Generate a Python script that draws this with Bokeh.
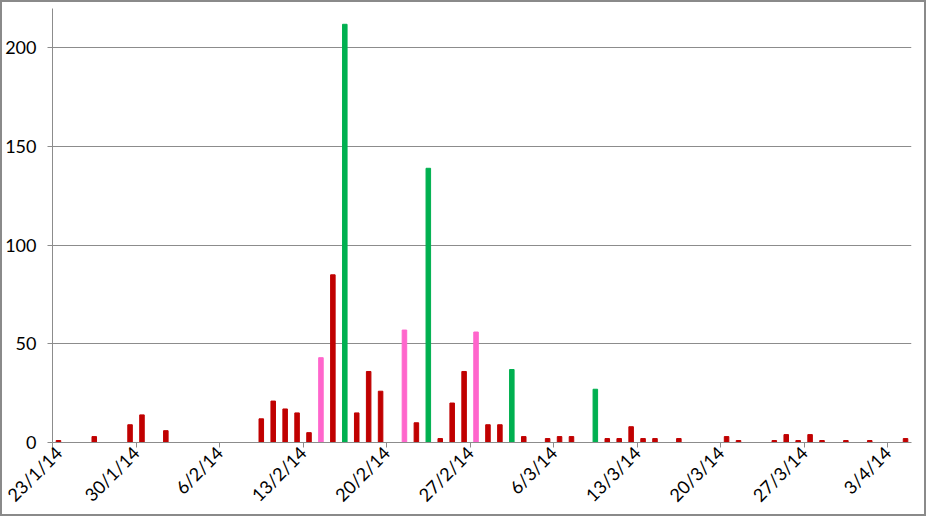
import pandas as pd
from bokeh.plotting import figure
from bokeh.models import ColumnDataSource, Range1d, FixedTicker
from bokeh.embed import file_html
from bokeh.resources import INLINE
from math import pi

# ---- data ----
dates = ["2014-01-23", "2014-01-26", "2014-01-29", "2014-01-30", "2014-02-01",
         "2014-02-09", "2014-02-10", "2014-02-11", "2014-02-12", "2014-02-13",
         "2014-02-14", "2014-02-15", "2014-02-16", "2014-02-17", "2014-02-18",
         "2014-02-19", "2014-02-21", "2014-02-22", "2014-02-23", "2014-02-24",
         "2014-02-25", "2014-02-26", "2014-02-27", "2014-02-28", "2014-03-01",
         "2014-03-02", "2014-03-03", "2014-03-05", "2014-03-06", "2014-03-07",
         "2014-03-09", "2014-03-10", "2014-03-11", "2014-03-12", "2014-03-13",
         "2014-03-14", "2014-03-16", "2014-03-20", "2014-03-21", "2014-03-24",
         "2014-03-25", "2014-03-26", "2014-03-27", "2014-03-28", "2014-03-30",
         "2014-04-01", "2014-04-04"]
counts = [1, 3, 9, 14, 6,
          12, 21, 17, 15, 5,
          43, 85, 212, 15, 36,
          26, 57, 10, 139, 2,
          20, 36, 56, 9, 9,
          37, 3, 2, 3, 3,
          27, 2, 2, 8, 2,
          2, 2, 3, 1, 1,
          4, 1, 4, 1, 1,
          1, 2]
kinds = ["r", "r", "r", "r", "r",
         "r", "r", "r", "r", "r",
         "p", "r", "g", "r", "r",
         "r", "p", "r", "g", "r",
         "r", "r", "p", "r", "r",
         "g", "r", "r", "r", "r",
         "g", "r", "r", "r", "r",
         "r", "r", "r", "r", "r",
         "r", "r", "r", "r", "r",
         "r", "r"]
tick_dates = ["2014-01-23", "2014-01-30", "2014-02-06", "2014-02-13", "2014-02-20",
              "2014-02-27", "2014-03-06", "2014-03-13", "2014-03-20", "2014-03-27",
              "2014-04-03"]
tick_labels = ["23/1/14", "30/1/14", "6/2/14", "13/2/14", "20/2/14", "27/2/14",
               "6/3/14", "13/3/14", "20/3/14", "27/3/14", "3/4/14"]
y_ticks = [0, 50, 100, 150, 200]
palette = {"r": "#C00000", "p": "#FF66CC", "g": "#00B050"}

DAY = 86400000.0
def ms(d):
    return pd.Timestamp(d).value / 1e6

xs = [ms(d) + DAY / 2 for d in dates]
cols = [palette[k] for k in kinds]
src = ColumnDataSource(dict(x=xs, top=counts, color=cols))

p = figure(width=926, height=516, output_backend="svg", toolbar_location=None,
           x_range=Range1d(ms("2014-01-23"), ms("2014-04-05")),
           y_range=Range1d(0, 220),
           min_border_left=47, min_border_right=17, min_border_top=6, min_border_bottom=76)
p.vbar(x="x", top="top", width=DAY * 0.38, color="color", source=src)

p.outline_line_color = None
p.background_fill_color = "white"
p.border_fill_color = "white"
p.styles = {"border": "2px solid #8a8a8a", "box-sizing": "border-box"}

tv = [ms(d) for d in tick_dates]
p.xaxis.ticker = FixedTicker(ticks=tv)
p.xaxis.major_label_overrides = {t: l for t, l in zip(tv, tick_labels)}
p.xaxis.major_label_orientation = pi / 4
p.xaxis.minor_tick_line_color = None
p.xgrid.grid_line_color = None

p.yaxis.ticker = FixedTicker(ticks=y_ticks)
p.yaxis.minor_tick_line_color = None
p.ygrid.grid_line_color = "#8c8c8c"
p.ygrid.grid_line_width = 1

for ax in (p.xaxis, p.yaxis):
    ax.axis_line_color = "#8c8c8c"
    ax.major_tick_line_color = "#8c8c8c"
    ax.major_tick_out = 5
    ax.major_tick_in = 0
    ax.major_label_text_font = "Lato"
    ax.major_label_text_font_size = "18px"
    ax.major_label_text_color = "#000000"
p.yaxis.major_label_standoff = 11
p.xaxis.major_label_standoff = 2

open("out.html", "w").write(file_html(p, INLINE))
